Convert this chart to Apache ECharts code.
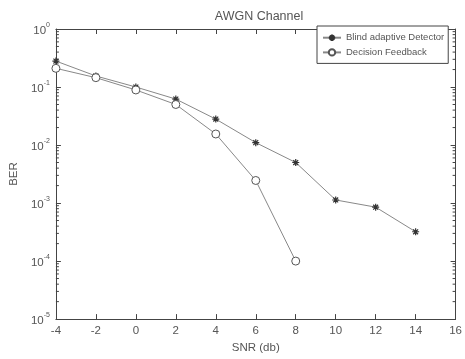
<!DOCTYPE html>
<html>
<head>
<meta charset="utf-8">
<script src="https://cdn.jsdelivr.net/npm/echarts@6/dist/echarts.min.js"></script>
<style>
  html, body { margin: 0; padding: 0; background: #fff; }
  #chart { width: 465px; height: 359px; }
</style>
</head>
<body>
<div id="chart"></div>
<script>
// SNR (db) sample points
const snr = [-4, -2, 0, 2, 4, 6, 8, 10, 12, 14]
const blindBer = [0.28, 0.155, 0.1, 0.062, 0.028, 0.011, 0.005, 0.00113, 0.00085, 0.00032]
const dfeSnr = [-4, -2, 0, 2, 4, 6, 8]
const dfeBer = [0.21, 0.145, 0.089, 0.05, 0.0155, 0.00245, 0.0001]
const decades = [1e-5, 1e-4, 1e-3, 1e-2, 1e-1]

const textColor = '#555'
const axisColor = '#444'
const font = 'Liberation Sans'

const asterisk = 'path://M5,0L5,10M0,5L10,5M1.5,1.5L8.5,8.5M1.5,8.5L8.5,1.5'

// minor log ticks at 2..9 x each decade
const minorVals = []
decades.forEach((d) => {
  for (let k = 2; k <= 9; k++) minorVals.push(k * d)
})

const chart = echarts.init(document.getElementById('chart'))

const pow10 = (v) => {
  const e = Math.round(Math.log10(v))
  return '{b|10}{s|' + e + '}'
}

const axisCommon = {
  axisLine: { onZero: false, lineStyle: { color: axisColor, width: 1 } },
  axisTick: { inside: true, length: 5, lineStyle: { color: axisColor } },
  splitLine: { show: false },
}

const option = {
  backgroundColor: '#fff',
  animation: false,
  textStyle: { fontFamily: font },
  title: {
    text: 'AWGN Channel',
    left: 254,
    textAlign: 'center',
    top: 5,
    textStyle: { fontSize: 12.5, fontWeight: 'normal', color: textColor, fontFamily: font },
  },
  legend: {
    orient: 'vertical',
    left: 317,
    top: 26,
    itemWidth: 18,
    itemHeight: 8,
    itemGap: 4,
    padding: [6, 4, 6, 5],
    borderColor: axisColor,
    borderWidth: 1,
    backgroundColor: '#fff',
    textStyle: { fontSize: 9.5, color: textColor, fontFamily: font },
    data: ['Blind adaptive Detector', 'Decision Feedback'],
  },
  grid: { left: 53, right: 9, top: 29, bottom: 32 },
  xAxis: [
    {
      type: 'value',
      min: -4,
      max: 16,
      interval: 2,
      name: 'SNR (db)',
      nameLocation: 'middle',
      nameGap: 22,
      nameTextStyle: { fontSize: 11.5, color: textColor },
      axisLabel: { fontSize: 11.5, color: textColor, margin: 6, showMinLabel: true, showMaxLabel: true },
      ...axisCommon,
    },
    {
      type: 'value',
      position: 'top',
      min: -4,
      max: 16,
      interval: 2,
      axisLabel: { show: false },
      ...axisCommon,
    },
  ],
  yAxis: [
    {
      type: 'log',
      logBase: 10,
      min: 1e-5,
      max: 1,
      name: 'BER',
      nameLocation: 'middle',
      nameGap: 32,
      nameTextStyle: { fontSize: 11.5, color: textColor },
      axisLabel: {
        color: textColor,
        margin: 6,
        formatter: pow10,
        rich: {
          b: { fontSize: 11.5, color: textColor, verticalAlign: 'bottom' },
          s: { fontSize: 7, color: textColor, verticalAlign: 'top', padding: [0, 0, 8, 0] },
        },
      },
      ...axisCommon,
    },
    {
      type: 'log',
      logBase: 10,
      min: 1e-5,
      max: 1,
      position: 'right',
      axisLabel: { show: false },
      ...axisCommon,
    },
  ],
  series: [
    {
      // minor ticks on left and right y axes
      type: 'custom',
      silent: true,
      clip: false,
      z: 1,
      data: minorVals.map((v) => [-4, v]),
      renderItem: (params, api) => {
        const l = api.coord([-4, api.value(1)])
        const r = api.coord([16, api.value(1)])
        const style = { stroke: axisColor, lineWidth: 1 }
        return {
          type: 'group',
          children: [
            { type: 'line', shape: { x1: l[0], y1: l[1], x2: l[0] + 3, y2: l[1] }, style },
            { type: 'line', shape: { x1: r[0], y1: r[1], x2: r[0] - 3, y2: r[1] }, style },
          ],
        }
      },
    },
    {
      name: 'Blind adaptive Detector',
      type: 'line',
      data: snr.map((x, i) => [x, blindBer[i]]),
      symbol: asterisk,
      symbolSize: 7,
      lineStyle: { color: '#888', width: 1 },
      itemStyle: { color: 'none', borderColor: '#333', borderWidth: 1.2 },
    },
    {
      name: 'Decision Feedback',
      type: 'line',
      data: dfeSnr.map((x, i) => [x, dfeBer[i]]),
      symbol: 'circle',
      symbolSize: 8,
      lineStyle: { color: '#888', width: 1 },
      itemStyle: { color: '#fff', borderColor: '#555', borderWidth: 1 },
    },
  ],
}

chart.setOption(option)
</script>
</body>
</html>
